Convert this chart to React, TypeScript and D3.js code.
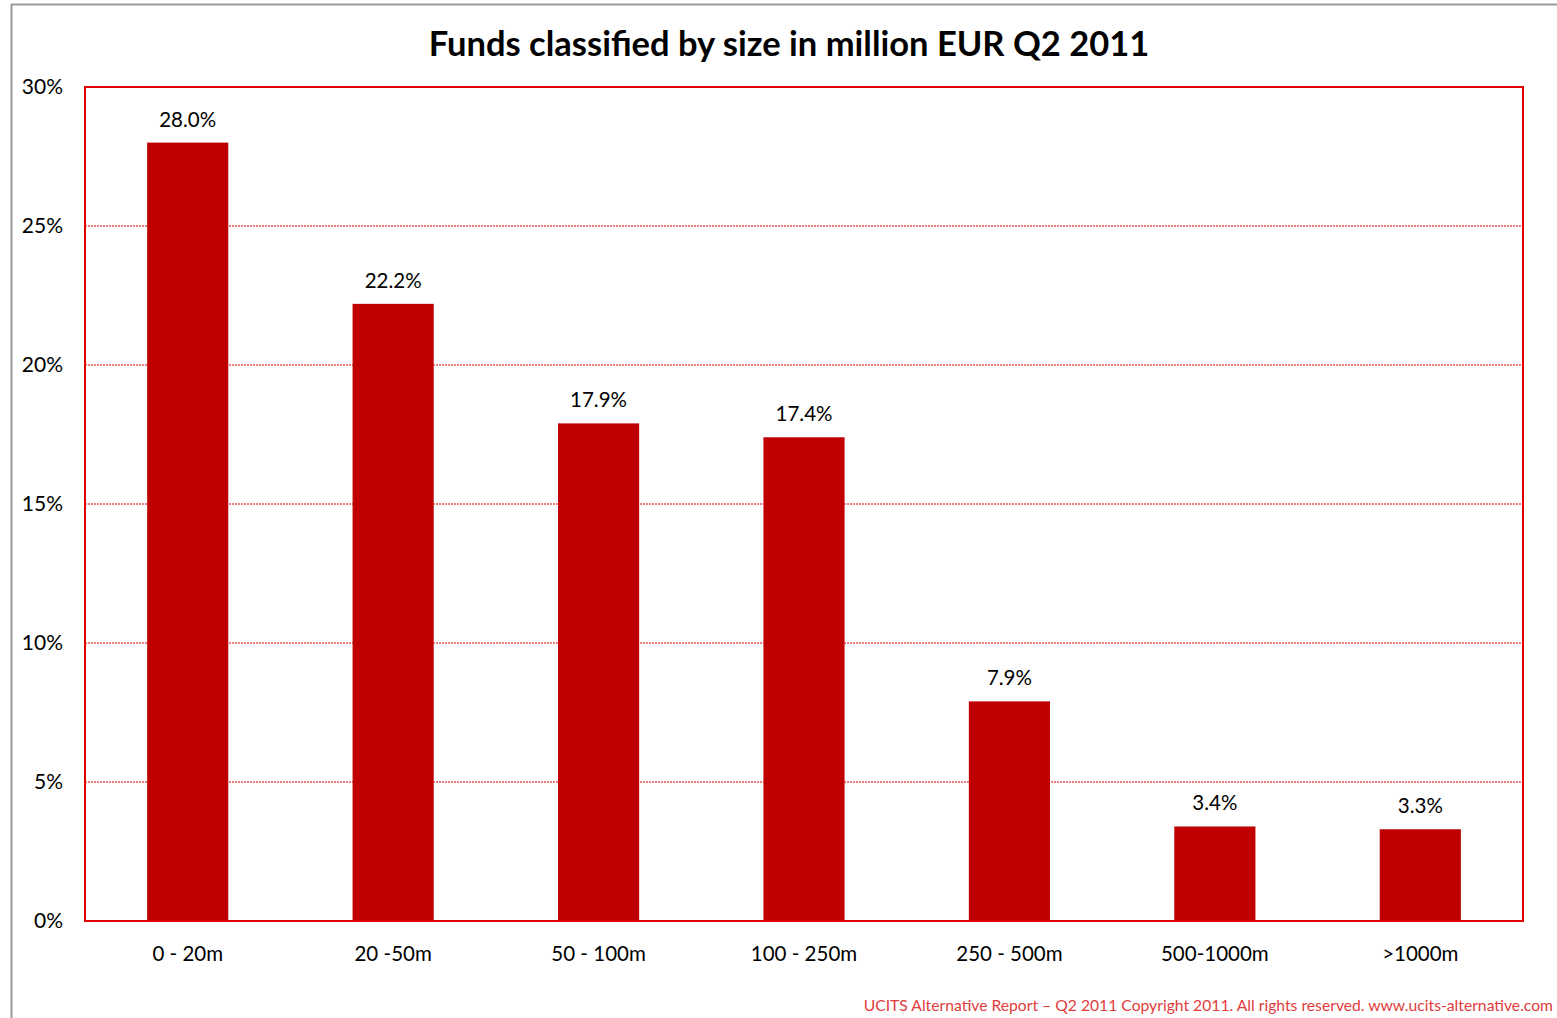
import React from "react";
import * as d3 from "d3";

const categories = ["0 - 20m", "20 -50m", "50 - 100m", "100 - 250m", "250 - 500m", "500-1000m", ">1000m"];
const values = [28.0, 22.2, 17.9, 17.4, 7.9, 3.4, 3.3];
const yTicks = [0, 5, 10, 15, 20, 25, 30];
const title = "Funds classified by size in million EUR Q2 2011";
const footer = "UCITS Alternative Report \u2013 Q2 2011 Copyright 2011. All rights reserved. www.ucits-alternative.com";

const W = 1557, H = 1018;
const plot = { left: 85, top: 87, right: 1523, bottom: 921 };
const font = "Lato, 'Open Sans', sans-serif";

export default function App() {
  const x = d3.scaleBand<string>().domain(categories).range([plot.left, plot.right]).paddingInner(0.605).paddingOuter(0.3025);
  const y = d3.scaleLinear().domain([0, 30]).range([plot.bottom, plot.top]);
  return (
    <svg width={W} height={H} style={{ position: "absolute", left: 0, top: 0, background: "#fff" }} fontFamily={font}>
      <rect x={0} y={0} width={W} height={H} fill="#fff" />
      <rect x={11.5} y={4.5} width={W + 10} height={H + 10} fill="none" stroke="#9a9a9a" strokeWidth={2} />
      <text x={789} y={56} textAnchor="middle" fontSize={34.5} fontWeight="bold" fill="#000">{title}</text>
      {yTicks.filter(t => t > 0 && t < 30).map(t => (
        <line key={t} x1={plot.left} x2={plot.right} y1={y(t)} y2={y(t)} stroke="#e00000" strokeWidth={1} strokeDasharray="2,1" />
      ))}
      {yTicks.map(t => (
        <text key={t} x={63} y={y(t) + 7} textAnchor="end" fontSize={21} fill="#000">{t}%</text>
      ))}
      {categories.map((c, i) => (
        <g key={c}>
          <rect x={x(c)} y={y(values[i])} width={x.bandwidth()} height={plot.bottom - y(values[i])} fill="#c00000" />
          <text x={(x(c) as number) + x.bandwidth() / 2} y={y(values[i]) - 16} textAnchor="middle" fontSize={20.5} fill="#000">{values[i].toFixed(1)}%</text>
          <text x={(x(c) as number) + x.bandwidth() / 2} y={961} textAnchor="middle" fontSize={20.5} fill="#000">{c}</text>
        </g>
      ))}
      <rect x={plot.left} y={plot.top} width={plot.right - plot.left} height={plot.bottom - plot.top} fill="none" stroke="#e00000" strokeWidth={2} />
      <text x={1553} y={1011} textAnchor="end" fontSize={15.7} fill="#e03c3c">{footer}</text>
    </svg>
  );
}
